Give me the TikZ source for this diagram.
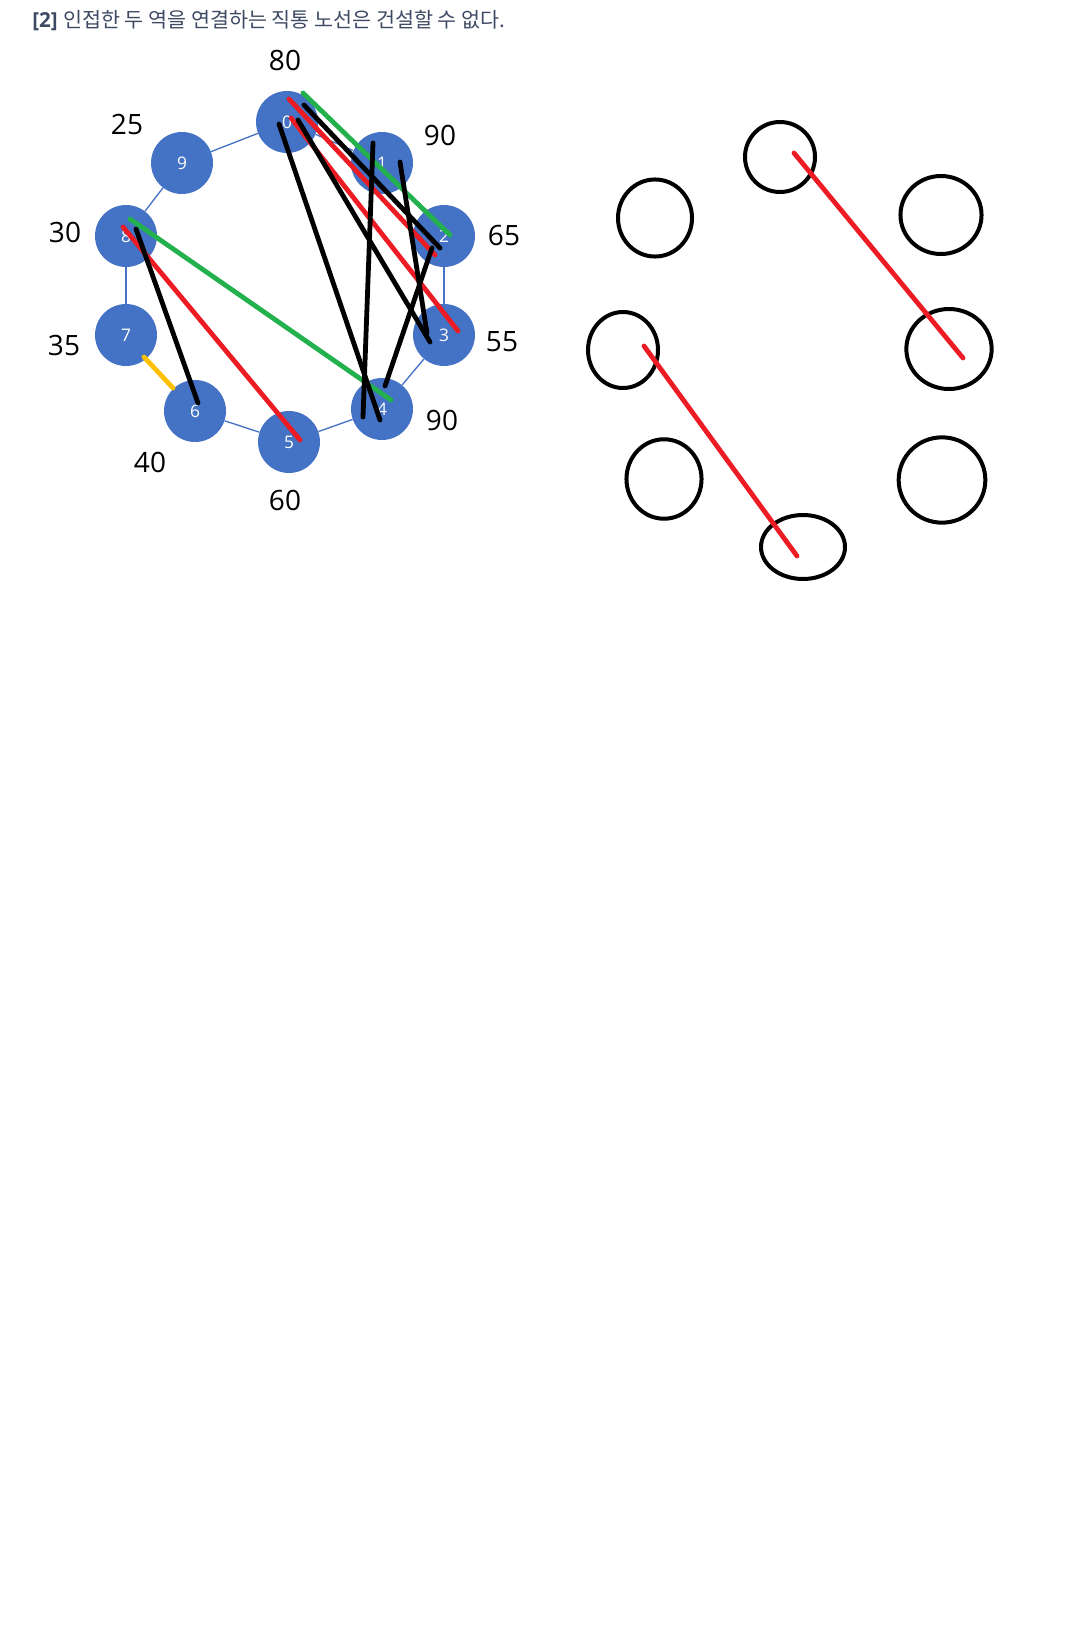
\documentclass[tikz,border=0pt]{standalone}
\usepackage{fontspec}
\setmainfont{Open Sans}
\newfontfamily\krfont{Noto Sans CJK KR}
\usetikzlibrary{shapes.geometric}

\definecolor{stationblue}{HTML}{4472C4}
\definecolor{titlegray}{HTML}{3E4A63}
\definecolor{paintred}{HTML}{ED1C24}
\definecolor{paintgreen}{HTML}{22B14C}
\definecolor{paintgold}{HTML}{FFC000}

\begin{document}
\begin{tikzpicture}[x=0.75pt,y=-0.75pt,
        station/.style={circle,fill=stationblue,minimum size=46.5pt,inner sep=0pt,
            text=white,font=\fontsize{13}{13}\selectfont},
        weight/.style={font=\fontsize{21}{21}\selectfont},
        link/.style={stationblue,line width=1pt},
        route/.style={line width=3.6pt,line cap=round},
        ring/.style={ellipse,draw,line width=3pt,inner sep=0pt}]
    \useasboundingbox (0,0) rectangle (1080,1652);

    % title
    \node[anchor=west,text=titlegray,inner sep=0pt] (title) at (32,20)
        {\fontsize{15.5}{15.5}\selectfont{\bfseries [2]} \krfont 인접한 두 역을 연결하는 직통 노선은 건설할 수 없다.};

    % stations on the ring
    \foreach \name/\x/\y in {0/287/122, 1/382/163, 2/444/236, 3/444/335, 4/382/409,
                             5/289/442, 6/195/411, 7/126/335, 8/126/236, 9/182/163}
        \node[station] (n\name) at (\x,\y) {\name};
    \foreach \a/\b in {0/1, 1/2, 2/3, 3/4, 4/5, 5/6, 7/8, 8/9, 9/0}
        \draw[link] (n\a) -- (n\b);

    % numbers next to the stations
    \foreach \name/\x/\y/\w in {0/285/60/80, 1/440/135/90, 2/504/235/65, 3/502/342/55,
                                4/442/420/90, 5/285/500/60, 6/150/462/40, 7/64/345/35,
                                8/65/232/30, 9/127/124/25}
        \node[weight] (w\name) at (\x,\y) {\w};

    % hand drawn routes
    \draw[route,paintgreen] ([shift={(16,-29)}]n0.center) -- ([shift={(6,-1)}]n2.center);
    \draw[route,paintgreen] ([shift={(4,-17)}]n8.center) -- ([shift={(9,-9)}]n4.center);
    \draw[route,paintred] ([shift={(2,-23)}]n0.center) -- ([shift={(-9,19)}]n2.center);
    \draw[route,paintred] ([shift={(4,-4)}]n0.center) -- ([shift={(14,-4)}]n3.center);
    \draw[route,paintred] ([shift={(-3,-9)}]n8.center) -- ([shift={(11,-2)}]n5.center);
    \draw[route] ([shift={(17,-17)}]n0.center) -- ([shift={(-4,12)}]n2.center);
    \draw[route] ([shift={(11,-2)}]n0.center) -- ([shift={(-14,7)}]n3.center);
    \draw[route] ([shift={(-8,2)}]n0.center) -- ([shift={(-2,11)}]n4.center);
    \draw[route] ([shift={(-9,-20)}]n1.center) -- ([shift={(-19,8)}]n4.center);
    \draw[route] ([shift={(-12,12)}]n2.center) -- ([shift={(3,-23)}]n4.center);
    \draw[route] ([shift={(18,-1)}]n1.center) -- ([shift={(-17,-2)}]n3.center);
    \draw[route] ([shift={(10,-7)}]n8.center) -- ([shift={(3,-8)}]n6.center);
    \draw[route,paintgold] ([shift={(18,22)}]n7.center) -- ([shift={(-22,-23)}]n6.center);

    % empty ring on the right
    \node[ring,minimum width=52.5pt,minimum height=52.5pt] (a) at (780,157) {};
    \node[ring,minimum width=55.5pt,minimum height=57.8pt] (b) at (655,218) {};
    \node[ring,minimum width=60.8pt,minimum height=58.5pt] (c) at (941,215) {};
    \node[ring,minimum width=52.5pt,minimum height=57pt] (d) at (623,350) {};
    \node[ring,minimum width=64pt,minimum height=60pt] (e) at (949,349) {};
    \node[ring,minimum width=56.3pt,minimum height=59.6pt] (f) at (664,479) {};
    \node[ring,minimum width=65pt,minimum height=64pt] (g) at (942,480) {};
    \node[ring,minimum width=63pt,minimum height=48pt] (h) at (803,547) {};
    \draw[route,paintred] ([shift={(14,-4)}]a.center) -- ([shift={(14,9)}]e.center);
    \draw[route,paintred] ([shift={(21,-4)}]d.center) -- ([shift={(-6,9)}]h.center);
\end{tikzpicture}
\end{document}
